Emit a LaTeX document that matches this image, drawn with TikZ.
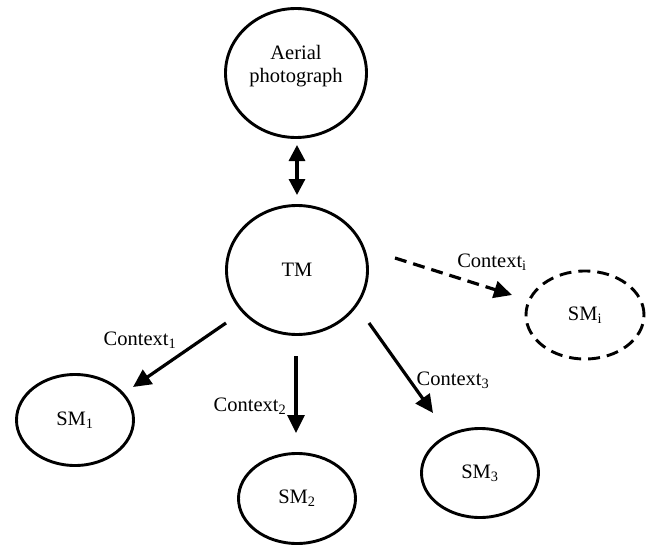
\documentclass[tikz,border=0pt]{standalone}
\usepackage{fontspec}
\setmainfont{Liberation Serif}
\usetikzlibrary{arrows.meta,shapes.geometric,calc}
\tikzset{
  ell/.style={ellipse, draw=black, line width=2.9pt, inner sep=0pt, outer sep=0pt},
  txt/.style={inner sep=0pt, font=\fontsize{20.5}{23.5}\selectfont, align=center},
  arr/.style={line width=3.2pt, -{Triangle[length=18pt,width=17pt]}},
  mydash/.style={dash pattern=on 12pt off 7pt}
}
\begin{document}
\begin{tikzpicture}[x=1pt,y=-1pt]
\useasboundingbox (0,0) rectangle (649,546);
\node[ell, minimum width=141pt, minimum height=129pt] (aerial) at (296,73) {};
\node[txt] (aerialtxt) at (296,66) {Aerial\\photograph};
\node[ell, txt, minimum width=141pt, minimum height=129pt] (tm) at (297,270) {TM};
\node[ell, txt, mydash, minimum width=118pt, minimum height=88pt] (smi) at (585,315) {SM\textsubscript{i}};
\node[ell, txt, minimum width=117pt, minimum height=91pt] (sm1) at (75,420) {SM\textsubscript{1}};
\node[ell, txt, minimum width=117pt, minimum height=90pt] (sm2) at (297,498.5) {SM\textsubscript{2}};
\node[ell, txt, minimum width=117pt, minimum height=89pt] (sm3) at (480,473) {SM\textsubscript{3}};

\draw[line width=3.2pt, {Triangle[length=16pt,width=16pt]}-{Triangle[length=16pt,width=16pt]}]
  ($(aerial)+(1,72)$) -- ($(tm)+(0,-75)$);
\draw[arr, mydash] ($(tm)+(98,-12)$) -- ($(smi)+(-73,-20)$);
\draw[arr] ($(tm)+(-71,53)$) -- ($(sm1)+(58,-33)$);
\draw[arr] ($(tm)+(-1,86)$) -- ($(sm2)+(-1,-65.5)$);
\draw[arr] ($(tm)+(72,53)$) -- ($(sm3)+(-47,-60)$);

\node[txt] (lbi) at (492,262) {Context\textsubscript{i}};
\node[txt] (lb1) at (140,340) {Context\textsubscript{1}};
\node[txt] (lb2) at (250,406) {Context\textsubscript{2}};
\node[txt] (lb3) at (453,380) {Context\textsubscript{3}};
\end{tikzpicture}
\end{document}
